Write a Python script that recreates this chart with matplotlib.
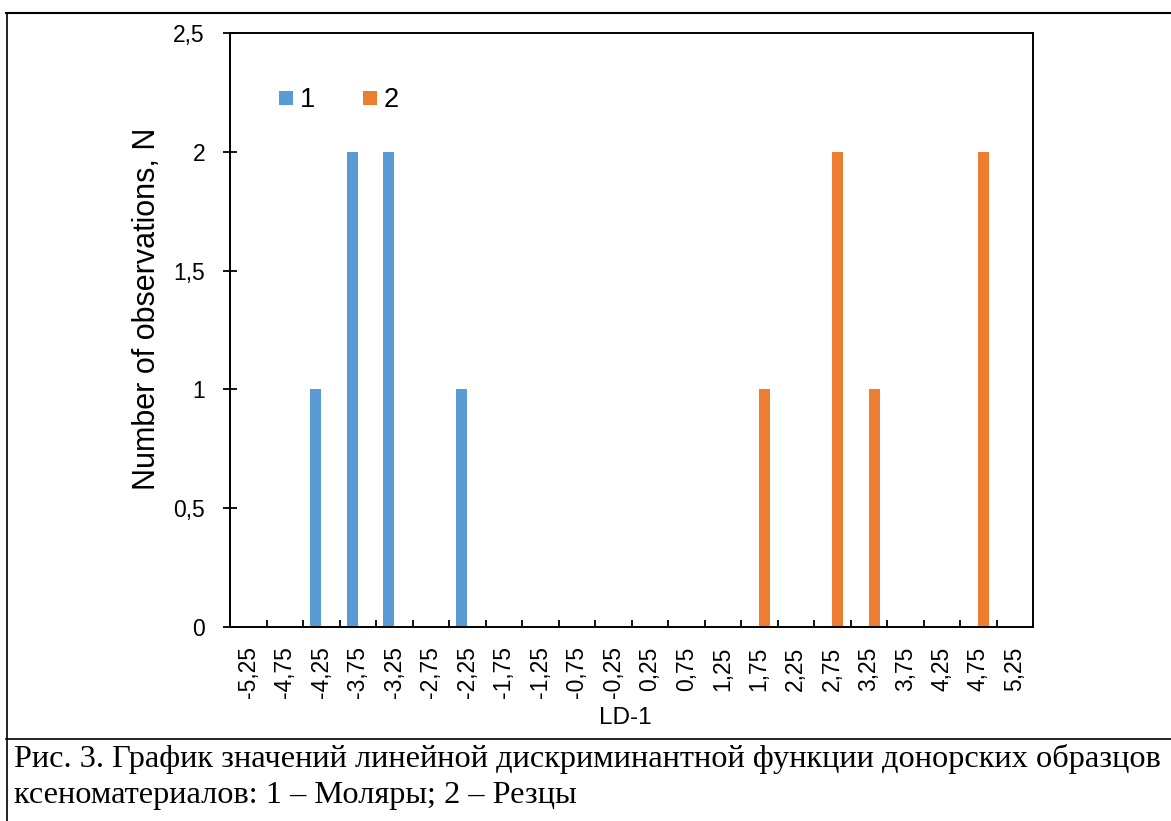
import numpy as np
import matplotlib
matplotlib.use("Agg")
from matplotlib import pyplot as plt
from matplotlib.lines import Line2D

# LD-1 bins (category labels, Excel style with comma decimals)
bins = ["-5,25", "-4,75", "-4,25", "-3,75", "-3,25", "-2,75", "-2,25", "-1,75",
        "-1,25", "-0,75", "-0,25", "0,25", "0,75", "1,25", "1,75", "2,25",
        "2,75", "3,25", "3,75", "4,25", "4,75", "5,25"]
# group 1 (molars) and group 2 (incisors)
molars = [0, 0, 1, 2, 2, 0, 1, 0, 0, 0, 0, 0, 0, 0, 0, 0, 0, 0, 0, 0, 0, 0]
incisors = [0, 0, 0, 0, 0, 0, 0, 0, 0, 0, 0, 0, 0, 0, 1, 0, 2, 1, 0, 0, 2, 0]
series_names = ["1", "2"]
y_ticks = [0, 0.5, 1, 1.5, 2, 2.5]
y_ticklabels = ["0", "0,5", "1", "1,5", "2", "2,5"]

caption_1 = "Рис. 3. График значений линейной дискриминантной функции донорских образцов"
caption_2 = "ксеноматериалов: 1 – Моляры; 2 – Резцы"

blue = "#5B9BD5"
orange = "#ED7D31"

W, H = 1171, 821
plt.rcParams["font.family"] = ["Liberation Sans", "DejaVu Sans"]
fig = plt.figure(figsize=(W / 100, H / 100), dpi=100)

# plot area in pixels: x 230..1033, y 33..627
ax = fig.add_axes([230 / W, 1 - 627 / H, (1033 - 230) / W, (627 - 33) / H])

x = np.arange(len(bins))
w = 0.30
ax.bar(x - w / 2, molars, w, color=blue, label=series_names[0])
ax.bar(x + w / 2, incisors, w, color=orange, label=series_names[1])

ax.set_xlim(-0.5, len(bins) - 0.5)
ax.set_ylim(0, 2.5)
ax.set_yticks(y_ticks)
ax.set_yticklabels(y_ticklabels)
ax.set_xticks(x)
ax.set_xticklabels(bins, rotation=90, va="top", ha="center")
ax.set_xticks(np.arange(0.5, len(bins) - 1), minor=True)

for s in ax.spines.values():
    s.set_linewidth(1.4)
    s.set_color("black")

ax.tick_params(axis="y", direction="inout", length=10, width=1.3, pad=13,
               labelsize=16.5)
ax.tick_params(axis="x", which="major", length=0, pad=14, labelsize=16.5)
ax.tick_params(axis="x", which="minor", direction="in", length=5, width=1.3)

ax.set_ylabel("Number of observations, N", fontsize=22)
ax.yaxis.set_label_coords(-0.103, (627 - 309) / 594)
ax.yaxis.label.set_va("center")
ax.set_xlabel("LD-1", fontsize=17.5)
ax.xaxis.set_label_coords((625 - 230) / 803, (627 - 718) / 594)
ax.xaxis.label.set_va("center")

# square legend markers like Excel
handles = [Line2D([], [], ls="none", marker="s", markersize=10, color=c, mew=0)
           for c in (blue, orange)]
ax.legend(handles, series_names, ncol=2, frameon=False, fontsize=19.5,
          loc="center left", bbox_to_anchor=((279 - 230) / 803, (627 - 100) / 594),
          borderpad=0, borderaxespad=0, handlelength=0.52,
          handletextpad=0.26, columnspacing=1.75)

# table frame around the figure and caption cell
def hline(y, x0, x1, lw):
    fig.add_artist(Line2D([x0 / W, x1 / W], [1 - y / H, 1 - y / H], color="black", lw=lw))

def vline(xp, y0, y1, lw):
    fig.add_artist(Line2D([xp / W, xp / W], [1 - y0 / H, 1 - y1 / H], color="black", lw=lw))

hline(13, 6, W, 1.5)
hline(739, 6, W, 1.2)
vline(7, 13, H, 1.2)

fig.text(14 / W, 1 - 759 / H, caption_1, family="Liberation Serif", fontsize=23.3,
         va="center", ha="left")
fig.text(14 / W, 1 - 795 / H, caption_2, family="Liberation Serif", fontsize=23.3,
         va="center", ha="left")

fig.savefig("out.png", dpi=100)
